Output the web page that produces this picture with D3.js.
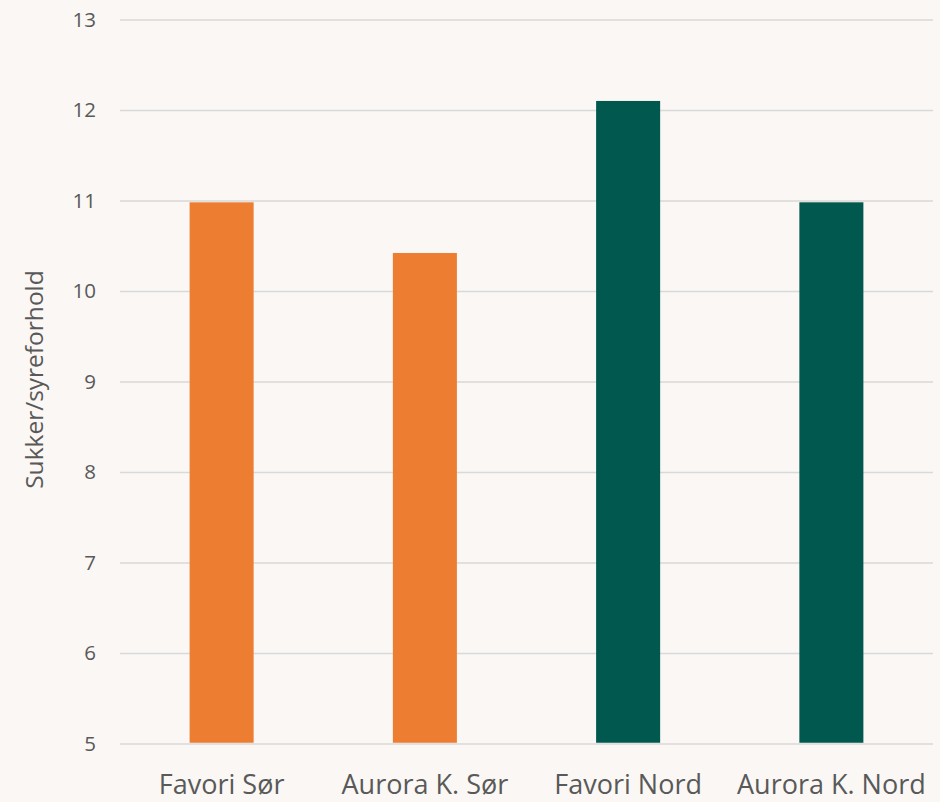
<!DOCTYPE html>
<html>
<head>
<meta charset="utf-8">
<script src="https://cdn.jsdelivr.net/npm/d3@7"></script>
<style>
  html, body { margin: 0; padding: 0; background: #faf7f4; }
  svg { display: block; }
  svg text { font-family: "Open Sans", sans-serif; }
</style>
</head>
<body>
<svg id="chart" width="940" height="802"></svg>
<script>
// Sugar/acid ratio per variety and region
const categories = ["Favori Sør", "Aurora K. Sør", "Favori Nord", "Aurora K. Nord"];
const values = [10.98, 10.42, 12.1, 10.98];
const barColors = ["#ed7d31", "#ed7d31", "#00584e", "#00584e"];
const yTicks = [5, 6, 7, 8, 9, 10, 11, 12, 13];
const yTitle = "Sukker/syreforhold";

const svg = d3.select("#chart");
const W = 940, H = 802;
const margin = { top: 19.5, right: 7, bottom: 58.5, left: 120 };
const FONT = "'Open Sans', sans-serif";

svg.append("rect").attr("width", W).attr("height", H).attr("fill", "#faf7f4");

const x = d3.scaleBand()
  .domain(categories)
  .range([margin.left, W - margin.right])
  .paddingInner(0.685)
  .paddingOuter(0.3425);

const y = d3.scaleLinear()
  .domain([5, 13])
  .range([H - margin.bottom, margin.top]);

// horizontal gridlines with value labels
const yAxis = d3.axisLeft(y)
  .tickValues(yTicks)
  .tickSize(-(W - margin.right - margin.left))
  .tickPadding(24)
  .tickFormat(d3.format("d"));

const gy = svg.append("g")
  .attr("transform", `translate(${margin.left},0)`)
  .call(yAxis)
  .attr("font-family", FONT);
gy.select(".domain").remove();
gy.selectAll(".tick line").attr("stroke", "#d9d9d9").attr("stroke-width", 1.5);
gy.selectAll(".tick text")
  .attr("fill", "#595959")
  .attr("font-size", 20.5);

// bars
svg.append("g").selectAll("rect")
  .data(values)
  .join("rect")
  .attr("x", (d, i) => x(categories[i]))
  .attr("width", x.bandwidth())
  .attr("y", d => y(d))
  .attr("height", d => y(5) - y(d) - 0.75)
  .attr("fill", (d, i) => barColors[i]);

// category axis
const xAxis = d3.axisBottom(x).tickSize(0).tickPadding(0);
const gx = svg.append("g")
  .attr("transform", `translate(0,${H - margin.bottom})`)
  .call(xAxis)
  .attr("font-family", FONT);
gx.select(".domain").remove();
gx.selectAll(".tick text")
  .attr("fill", "#595959")
  .attr("font-size", 27)
  .attr("dy", null)
  .attr("y", 50.5);

// y axis title
svg.append("text")
  .attr("transform", `translate(43,${(y(5) + y(13)) / 2 - 2}) rotate(-90)`)
  .attr("text-anchor", "middle")
  .attr("fill", "#595959")
  .attr("font-family", FONT)
  .attr("font-size", 24.5)
  .text(yTitle);
</script>
</body>
</html>
